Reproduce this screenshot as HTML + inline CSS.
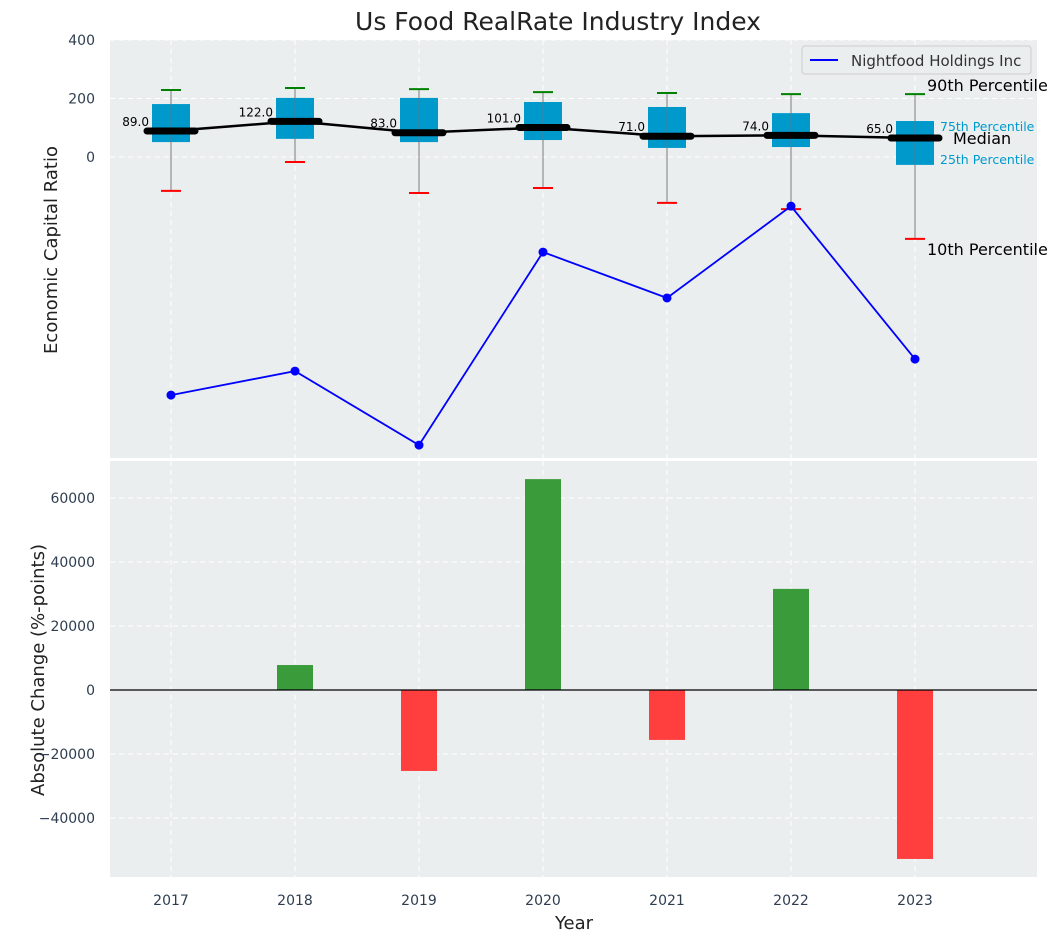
<!DOCTYPE html>
<html><head><meta charset="utf-8"><style>
body{margin:0;background:#fff;}
svg text{font-family:"DejaVu Sans","Liberation Sans",sans-serif;}
</style></head><body>
<svg id="chart" width="1063" height="942" xmlns="http://www.w3.org/2000/svg">
<rect x="110" y="40" width="927" height="418" fill="#eaeeef"/>
<rect x="110" y="461" width="927" height="416" fill="#eaeeef"/>
<g id="topg"></g><g id="botg"></g>
<text x="558" y="30" font-size="25" text-anchor="middle" fill="#222">Us Food RealRate Industry Index</text>
<text transform="translate(57,250) rotate(-90)" font-size="18" text-anchor="middle" fill="#222">Economic Capital Ratio</text>
<text transform="translate(44,670) rotate(-90)" font-size="18" text-anchor="middle" fill="#222">Absolute Change (%-points)</text>
<text x="574" y="929" font-size="18" text-anchor="middle" fill="#222">Year</text>
<g>
<rect x="802" y="46" width="229" height="28" rx="3" fill="#eaeeef" stroke="#ccc"/>
<line x1="810" y1="60" x2="838" y2="60" stroke="#0000ff" stroke-width="2"/>
<text x="851" y="66" font-size="15" fill="#333">Nightfood Holdings Inc</text>
</g>
</svg>
<script>
const years=[2017,2018,2019,2020,2021,2022,2023];
const medians=[89,122,83,101,71,74,65];
const q1=[51,62,51,58,31,34,-27];
const q3=[181,202,202,188,171,150,123];
const p10=[-116,-17,-123,-106,-157,-178,-280];
const p90=[229,236,232,222,219,215,215];
const nightfood=[-814,-732,-985,-325,-482,-168,-691];
const changes=[0,7800,-25300,65900,-15600,31600,-52800];
const topTicks=[0,200,400];
const botTicks=[-40000,-20000,0,20000,40000,60000];
const NS="http://www.w3.org/2000/svg";
const X=y=>171+(y-2017)*124;
const YT=v=>157-v*0.2925;
const YB=v=>690-v*0.0032;
function mk(p,t,a){const e=document.createElementNS(NS,t);for(const k in a)e.setAttribute(k,a[k]);p.appendChild(e);return e;}
const topG=document.getElementById('topg'),botG=document.getElementById('botg'),svg=document.getElementById('chart');
years.forEach(y=>{
 let g=mk(topG,'line',{x1:X(y),x2:X(y),y1:40,y2:458,stroke:'#fff','stroke-dasharray':'5,4'});
 
 
 g=mk(botG,'line',{x1:X(y),x2:X(y),y1:461,y2:877,stroke:'#fff','stroke-dasharray':'5,4'});
 
 
 const t=mk(svg,'text',{x:X(y),y:905,'font-size':14,'text-anchor':'middle',fill:'#2e3e50'});t.textContent=y;
 
 
});
topTicks.forEach(v=>{
 const g=mk(topG,'line',{x1:110,x2:1037,y1:YT(v),y2:YT(v),stroke:'#fff','stroke-dasharray':'5,4'});
 
 
 const t=mk(svg,'text',{x:95,y:YT(v)+5,'font-size':14,'text-anchor':'end',fill:'#2e3e50'});t.textContent=v;
 
 
});
botTicks.forEach(v=>{
 const g=mk(botG,'line',{x1:110,x2:1037,y1:YB(v),y2:YB(v),stroke:'#fff','stroke-dasharray':'5,4'});
 
 
 const t=mk(svg,'text',{x:95,y:YB(v)+5,'font-size':14,'text-anchor':'end',fill:'#2e3e50'});t.textContent=(v<0?'\u2212'+(-v):v);
 
 
});
years.forEach((y,i)=>{
 const x=X(y);
 let e=mk(topG,'line',{x1:x,x2:x,y1:YT(p90[i]),y2:YT(p10[i]),stroke:'#888','stroke-width':1});
 
 
 e=mk(topG,'rect',{x:x-19,y:YT(q3[i]),width:38,height:YT(q1[i])-YT(q3[i]),fill:'#0099cc'});
 
 
 e=mk(topG,'line',{x1:x,x2:x,y1:YT(p90[i]),y2:YT(p10[i]),stroke:'#777','stroke-width':1,opacity:0.6});
 
 
 e=mk(topG,'line',{x1:x-10,x2:x+10,y1:YT(p90[i]),y2:YT(p90[i]),stroke:'#008000','stroke-width':2});
 
 
 e=mk(topG,'line',{x1:x-10,x2:x+10,y1:YT(p10[i]),y2:YT(p10[i]),stroke:'#ff0000','stroke-width':2});
 
 
});
let pts=years.map((y,i)=>X(y)+','+YT(medians[i])).join(' ');
let ml=mk(topG,'polyline',{points:pts,fill:'none',stroke:'#000','stroke-width':2.5});


years.forEach((y,i)=>{
 const x=X(y);
 let e=mk(topG,'line',{x1:x-24,x2:x+24,y1:YT(medians[i]),y2:YT(medians[i]),stroke:'#000','stroke-width':7,'stroke-linecap':'round'});
 
 
 const t=mk(topG,'text',{x:x-22,y:YT(medians[i])-5,'font-size':12,'text-anchor':'end',fill:'#000'});t.textContent=medians[i].toFixed(1);
 
 
});
pts=years.map((y,i)=>X(y)+','+YT(nightfood[i])).join(' ');
let nl=mk(topG,'polyline',{points:pts,fill:'none',stroke:'#0000ff','stroke-width':1.8});


years.forEach((y,i)=>{
 const c=mk(topG,'circle',{cx:X(y),cy:YT(nightfood[i]),r:4.5,fill:'#0000ff'});
 
 
});
const L=years.length-1,lx=X(years[L]);
[['90th Percentile',lx+12,YT(p90[L])-3,16,'#000'],['10th Percentile',lx+12,YT(p10[L])+16,16,'#000'],['Median',lx+38,YT(medians[L])+6,16,'#000'],['75th Percentile',lx+25,YT(q3[L])+10,12.5,'#0099cc'],['25th Percentile',lx+25,YT(q1[L])-1,12.5,'#0099cc']].forEach(a=>{
 const t=mk(svg,'text',{x:a[1],y:a[2],'font-size':a[3],fill:a[4]});t.textContent=a[0];
 
 
});
years.forEach((y,i)=>{
 const v=changes[i];if(v===0)return;
 const r=mk(botG,'rect',{x:X(y)-18,y:Math.min(YB(v),YB(0)),width:36,height:Math.abs(YB(v)-YB(0)),fill:v>0?'#3a9b3a':'#ff3e3e'});
 
 
});
let z=mk(botG,'line',{x1:110,x2:1037,y1:YB(0),y2:YB(0),stroke:'#000','stroke-width':1.2});


</script>
</body></html>
